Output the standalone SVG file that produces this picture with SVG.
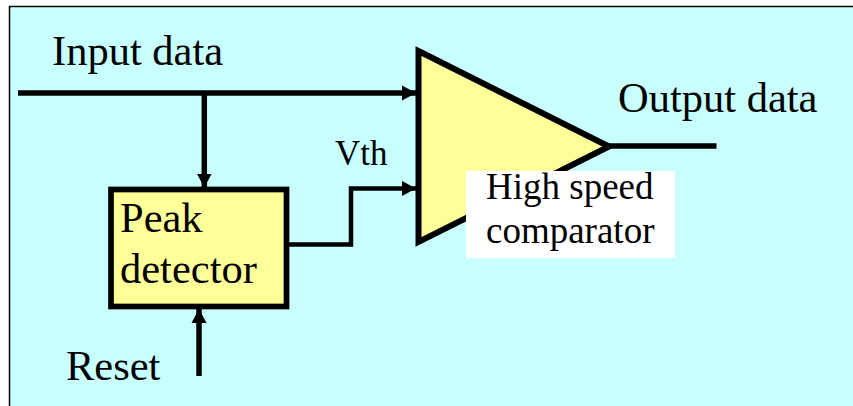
<svg xmlns="http://www.w3.org/2000/svg" width="853" height="406" viewBox="0 0 853 406">
<style>
.t{font-family:"Liberation Serif","Times New Roman",serif;fill:#000}
.b{font-size:42.500px}
.m{font-size:37px}
.c{fill:none;stroke:#000;stroke-width:5.500}
.d{stroke-width:4.500}
.s{fill:#ffff99;stroke:#000}
</style>
<defs><marker id="a" markerUnits="userSpaceOnUse" markerWidth="16" markerHeight="16" refX="14" refY="8" orient="auto"><path d="M0 0.500L14 8L0 15.500Z" fill="#000"/></marker></defs>
<rect width="853" height="406" fill="#fff"/>
<rect x="9.500" y="6.500" width="850" height="410" fill="#c8ffff" stroke="#000" stroke-width="1.500"/>
<g id="connectors">
<path class="c" d="M18 93H416" marker-end="url(#a)"/>
<path class="c" d="M204.300 93V187.500" marker-end="url(#a)"/>
<path class="c" d="M199 376V309" marker-end="url(#a)"/>
<path class="c d" d="M288 244.500H351V188.500H416" marker-end="url(#a)"/>
<path class="c" d="M606 146H716.500"/>
</g>
<g id="peak-detector">
<rect class="s" x="111" y="189.500" width="175.500" height="117" stroke-width="5.700"/>
<text class="t b" x="120" y="232">Peak</text>
<text class="t b" x="120" y="283">detector</text>
</g>
<g id="comparator">
<path class="s" d="M418.500 51L609 146.500L418.500 242Z" stroke-width="6"/>
<rect x="466" y="171" width="209" height="87" fill="#fff"/>
<text class="t m" x="486" y="198.500">High speed</text>
<text class="t m" x="486" y="242.500">comparator</text>
</g>
<text class="t b" x="52" y="65">Input data</text>
<text class="t b" x="618" y="112">Output data</text>
<text class="t" font-size="35" x="335" y="164.500">Vth</text>
<text class="t b" x="66" y="380">Reset</text>
</svg>
